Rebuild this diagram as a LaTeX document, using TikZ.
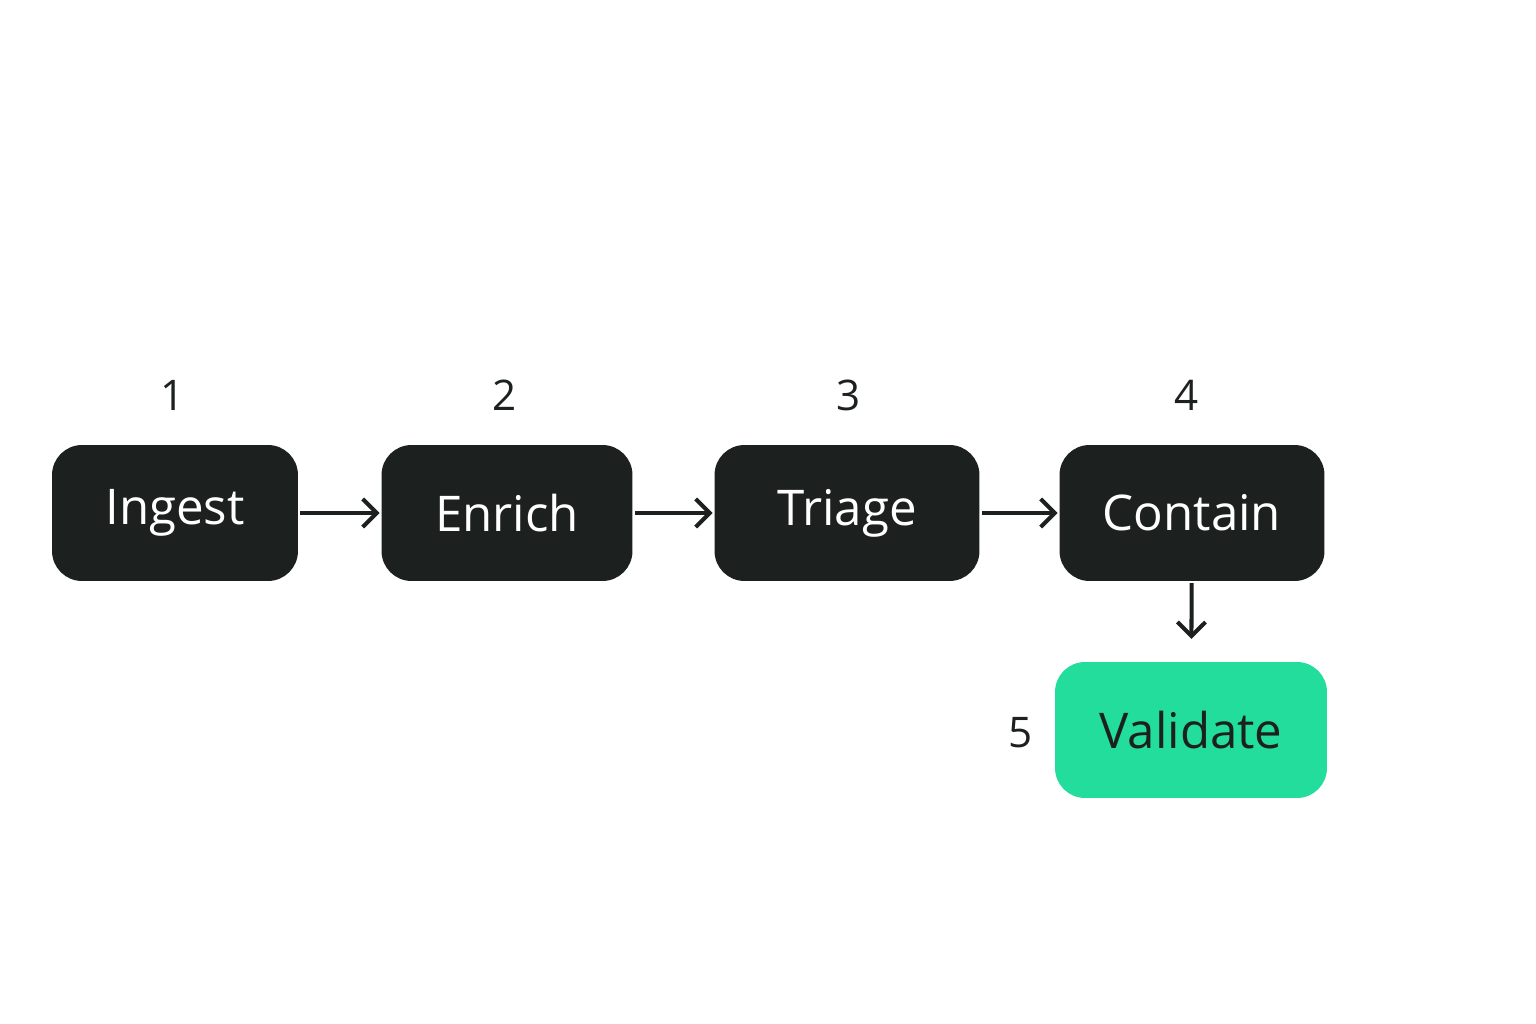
\documentclass[tikz,border=0pt]{standalone}
\usepackage{fontspec}
\setmainfont{Open Sans}
\usetikzlibrary{arrows.meta,positioning}
\definecolor{boxdark}{HTML}{1C2120}
\definecolor{boxgreen}{HTML}{22DD9C}

\begin{document}
\begin{tikzpicture}[x=0.02cm,y=-0.02cm,->,>={Straight Barb[length=8pt,width=16pt]},line width=2.3pt,draw=boxdark]
  \tikzstyle{stage}=[draw=none,fill=boxdark,text=white,rounded corners=0.6cm,minimum height=2.72cm,font=\fontsize{28}{30}\selectfont,inner sep=0pt]
  \tikzstyle{num}=[text=boxdark,font=\fontsize{24}{26}\selectfont]

  \useasboundingbox[fill=white] (0,0) rectangle (1536,1024);

  \node[stage,minimum width=4.92cm] (ingest)   at (175,513)  {Ingest};
  \node[stage,minimum width=5.02cm] (enrich)   at (507,513)  {Enrich};
  \node[stage,minimum width=5.3cm]  (triage)   at (847,513)  {Triage};
  \node[stage,minimum width=5.3cm]  (contain)  at (1192,513) {Contain};
  \node[stage,minimum width=5.44cm,fill=boxgreen,text=boxdark] (validate) at (1191,730) {Validate};

  \node[num] (n1) at (173,395)  {1};
  \node[num] (n2) at (505,395)  {2};
  \node[num] (n3) at (849,395)  {3};
  \node[num] (n4) at (1187,395) {4};
  \node[num] (n5) at (1021,733) {5};

  \draw (ingest)  -- (enrich);
  \draw (enrich)  -- (triage);
  \draw (triage)  -- (contain);
  \draw[shorten >=12pt] (contain) -- (validate);
\end{tikzpicture}
\end{document}
